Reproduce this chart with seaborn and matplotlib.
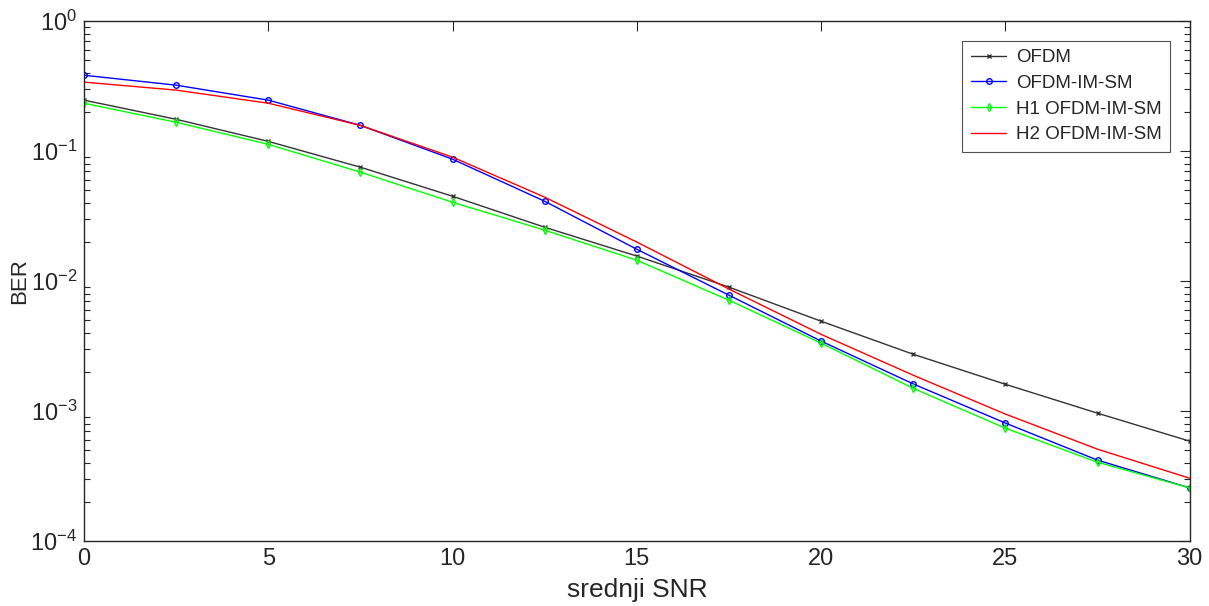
import numpy as np
import pandas as pd
import matplotlib
matplotlib.use("Agg")
import matplotlib.pyplot as plt
import seaborn as sns
from matplotlib.ticker import LogLocator, FixedLocator

snr = [0, 2.5, 5, 7.5, 10, 12.5, 15, 17.5, 20, 22.5, 25, 27.5, 30]
ber_ofdm = [0.247, 0.176, 0.119, 0.0753, 0.045, 0.026, 0.0156, 0.009, 0.00492, 0.00274, 0.00161, 0.000965, 0.000588]
ber_imsm = [0.384, 0.322, 0.247, 0.158, 0.0868, 0.0412, 0.0176, 0.0078, 0.00346, 0.00162, 0.00081, 0.00042, 0.000257]
ber_h1 = [0.234, 0.167, 0.113, 0.069, 0.0405, 0.0247, 0.0145, 0.00714, 0.00334, 0.0015, 0.00074, 0.000405, 0.000257]
ber_h2 = [0.34, 0.295, 0.234, 0.158, 0.09, 0.0443, 0.02, 0.0087, 0.0039, 0.00189, 0.00095, 0.00051, 0.000305]

labels = ["OFDM", "OFDM-IM-SM", "H1 OFDM-IM-SM", "H2 OFDM-IM-SM"]
series = [ber_ofdm, ber_imsm, ber_h1, ber_h2]
colors = ["#333333", "#0000ff", "#00ff00", "#ff0000"]
markers = ["x", "o", "d", None]
msizes = [3.5, 4, 4, 0]

sns.set_theme(style="white")
plt.rcParams['font.family'] = ['Liberation Sans', 'DejaVu Sans']

fig = plt.figure(figsize=(12.09, 6.06), dpi=100)
ax = fig.add_axes([0.0695, 0.107, 0.9145, 0.858])

for lab, ys, c, m, ms in zip(labels, series, colors, markers, msizes):
    df = pd.DataFrame({"snr": snr, "ber": ys})
    kw = dict(marker=m, markersize=ms, markerfacecolor='none', markeredgecolor=c, markeredgewidth=1) if m else {}
    sns.lineplot(data=df, x="snr", y="ber", color=c, linewidth=1, label=lab, ax=ax, **kw)

ax.set_yscale("log")
ax.set_xlim(0, 30)
ax.set_ylim(1e-4, 1)
ax.xaxis.set_major_locator(FixedLocator([0, 5, 10, 15, 20, 25, 30]))
ax.yaxis.set_major_locator(LogLocator(base=10, numticks=10))
ax.yaxis.set_minor_locator(LogLocator(base=10, subs=np.arange(2, 10), numticks=10))
ax.tick_params(which='both', direction='in', top=True, right=True, colors='#262626', labelsize=17)
ax.tick_params(which='major', length=7, width=0.8, pad=5)
ax.tick_params(which='minor', length=4, width=0.8, left=True, right=True, bottom=False, top=False)
for s in ax.spines.values():
    s.set_color('#262626')
    s.set_linewidth(1)
ax.set_xlabel("srednji SNR", fontsize=19, color='#262626', labelpad=6)
ax.set_ylabel("BER", fontsize=16, color='#262626', labelpad=0)
leg = ax.legend(loc='upper right', fontsize=13.5, frameon=True, fancybox=False, edgecolor='#262626',
                handlelength=1.9, handletextpad=0.5, borderaxespad=1.05, labelspacing=0.45,
                borderpad=0.45)
leg.get_frame().set_linewidth(0.8)
fig.savefig("out.png", dpi=100)
